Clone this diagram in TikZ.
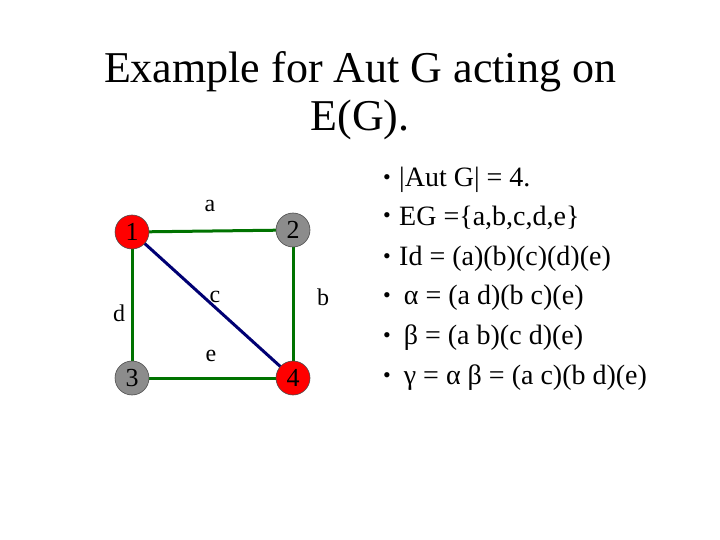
\documentclass[tikz,border=0pt]{standalone}
\usepackage{fontspec}
\setmainfont{Liberation Serif}
\begin{document}
\begin{tikzpicture}[x=1pt,y=-1pt,
  vtx/.style={circle,draw=black!70,line width=0.6pt,minimum size=34pt,inner sep=0pt,font=\fontsize{26}{26}\selectfont},
  red/.style={fill=red},
  gray/.style={fill=black!45},
  gedge/.style={draw=green!45!black,line width=3pt},
  bedge/.style={draw=blue!45!black,line width=3pt},
  lbl/.style={font=\fontsize{24}{24}\selectfont,inner sep=0pt},
  item/.style={font=\fontsize{28}{28}\selectfont,anchor=west,inner sep=0pt},
  bul/.style={font=\fontsize{22}{22}\selectfont,inner sep=0pt}]
\useasboundingbox (0,0) rectangle (720,540);
\node[font=\fontsize{44}{44}\selectfont,inner sep=0pt] (t1) at (360,72) {Example for Aut G acting on};
\node[font=\fontsize{44}{44}\selectfont,inner sep=0pt] (t2) at (360,120) {E(G).};
\coordinate (p1) at (132,232);
\coordinate (p2) at (293,230);
\coordinate (p3) at (132,378);
\coordinate (p4) at (293,378);
\draw[gedge] (p1) -- (p2);
\draw[gedge] (p2) -- (p4);
\draw[gedge] (p1) -- (p3);
\draw[gedge] (p3) -- (p4);
\draw[bedge] (p1) -- (p4);
\node[vtx,red] (v1) at (p1) {1};
\node[vtx,gray] (v2) at (p2) {2};
\node[vtx,gray] (v3) at (p3) {3};
\node[vtx,red] (v4) at (p4) {4};
\node[lbl] (la) at (210,206) {a};
\node[lbl] (lb) at (323,297) {b};
\node[lbl] (lc) at (215,297) {c};
\node[lbl] (ld) at (119,313) {d};
\node[lbl] (le) at (211,356) {e};
\foreach \y/\t [count=\i] in {180/{|Aut G| = 4.},218/{EG =\{a,b,c,d,e\}},259/{Id = (a)(b)(c)(d)(e)},298/{\,α = (a d)(b c)(e)},338/{\,β = (a b)(c d)(e)},378/{\,γ = α β = (a c)(b d)(e)}}{
  \node[bul] (b\i) at (387,\y) {•};
  \node[item] (i\i) at (399,\y) {\t};
}
\end{tikzpicture}
\end{document}
